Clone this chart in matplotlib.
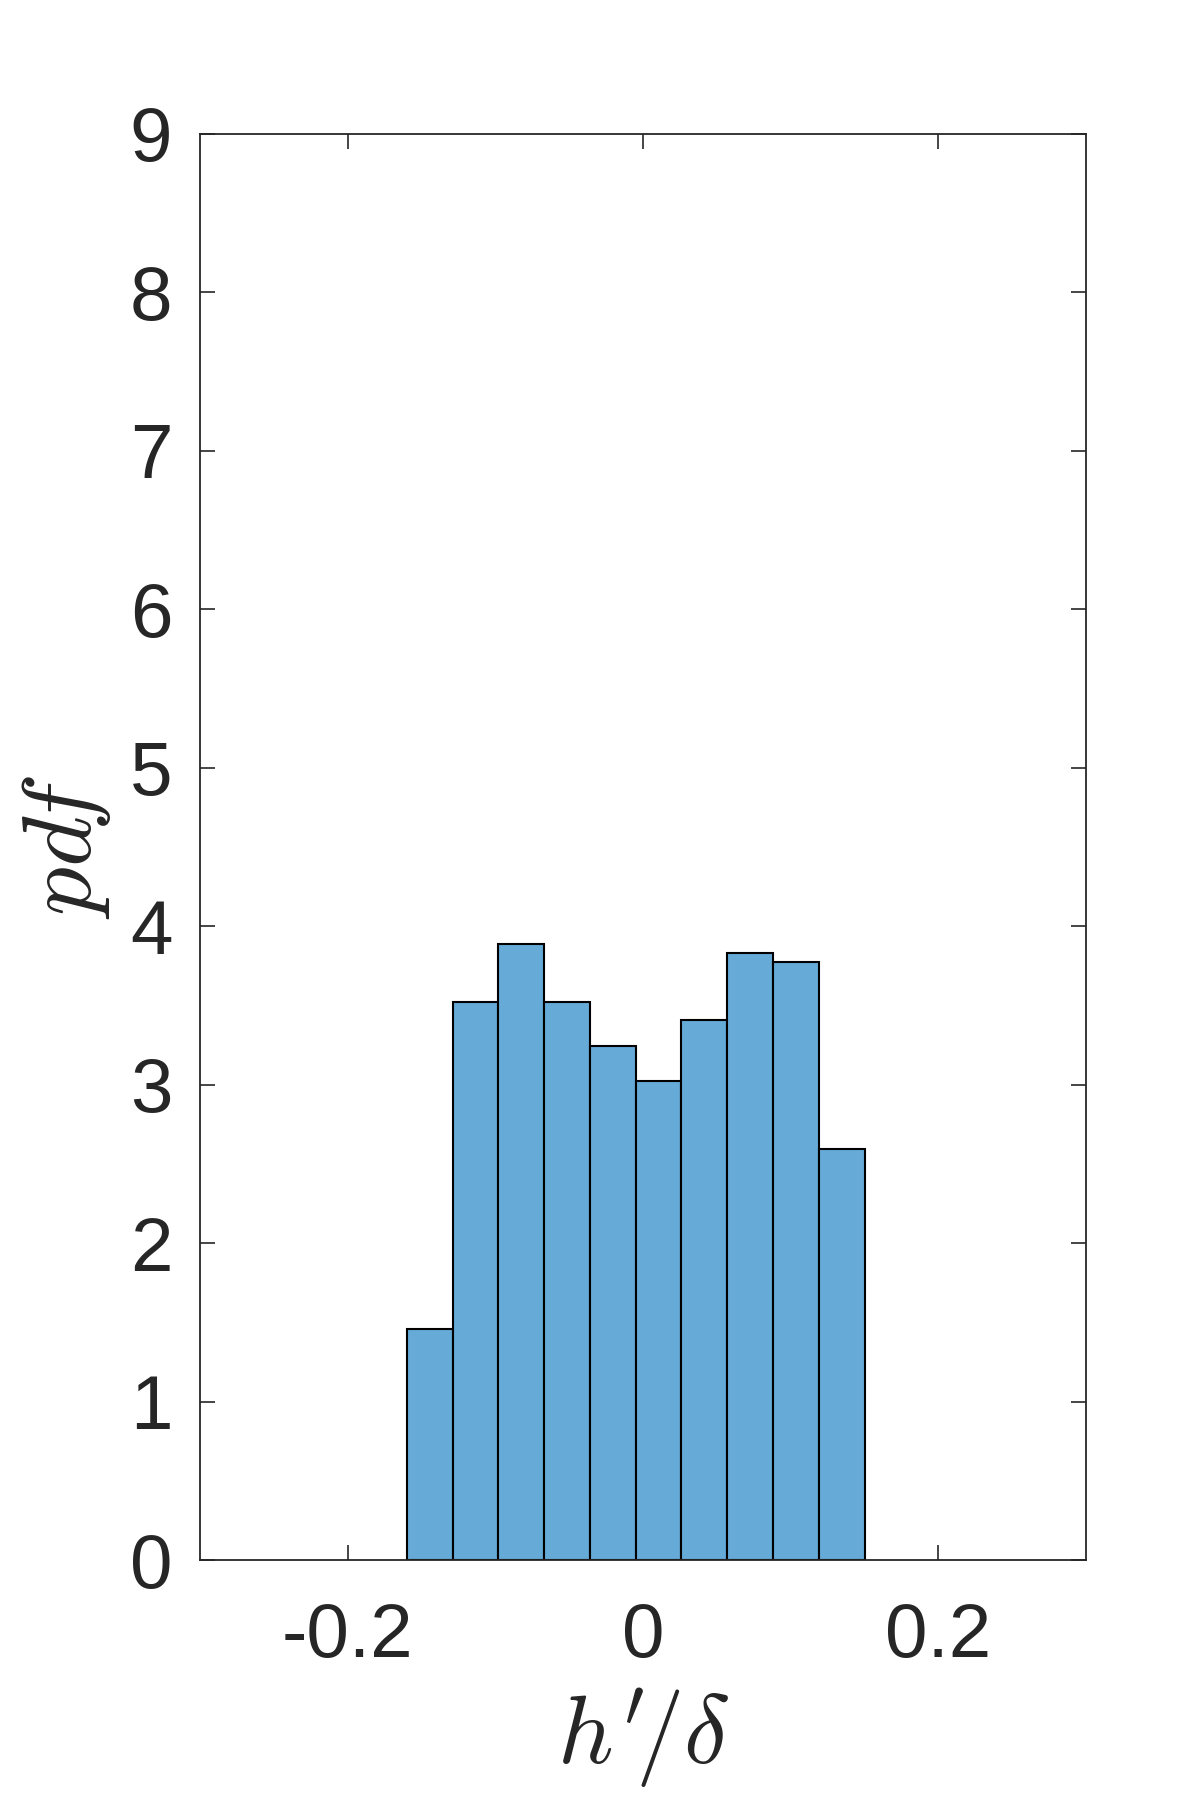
import matplotlib
matplotlib.use("Agg")
import matplotlib.pyplot as plt
import numpy as np

# histogram bin edges and pdf values
bin_edges = [-0.16, -0.129, -0.098, -0.067, -0.036, -0.005, 0.026, 0.057, 0.088, 0.119, 0.15]
pdf_values = [1.456, 3.522, 3.886, 3.522, 3.244, 3.021, 3.408, 3.829, 3.772, 2.596]
x_ticks = [-0.2, 0, 0.2]
x_tick_labels = ["-0.2", "0", "0.2"]
y_ticks = [0, 1, 2, 3, 4, 5, 6, 7, 8, 9]

plt.rcParams["font.family"] = ["Liberation Sans", "DejaVu Sans"]
plt.rcParams["mathtext.fontset"] = "cm"

dark = "#262626"
fig = plt.figure(figsize=(12, 18), dpi=100)
ax = fig.add_axes([0.1667, 0.1333, 0.905 - 0.1667, 0.9256 - 0.1333])

edges = np.array(bin_edges)
ax.bar(edges[:-1], pdf_values, width=np.diff(edges), align="edge",
       color=(0.4, 0.667, 0.843), edgecolor="black", linewidth=1.5, zorder=2)

ax.set_xlim(-0.3, 0.3)
ax.set_ylim(0, 9)
ax.set_xticks(x_ticks)
ax.set_xticklabels(x_tick_labels)
ax.set_yticks(y_ticks)
ax.tick_params(direction="in", length=11, width=1.2, colors=dark,
               labelsize=55, top=True, right=True, zorder=3)
ax.tick_params(axis="x", pad=30)
ax.tick_params(axis="y", pad=20)
for s in ax.spines.values():
    s.set_color(dark)
    s.set_linewidth(1.3)
    s.set_zorder(4)

ax.set_xlabel(r"$h'\!/\delta$", fontsize=70, color=dark, labelpad=10)
ax.set_ylabel(r"$pd\!f$", fontsize=70, color=dark, labelpad=12)

fig.savefig("out.png", dpi=100)
